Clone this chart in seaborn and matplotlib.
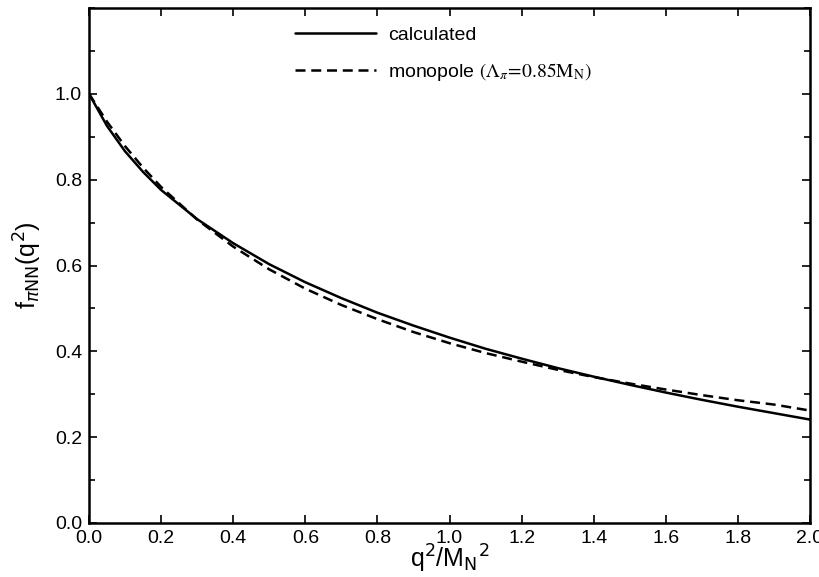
import numpy as np
import pandas as pd
import seaborn as sns
import matplotlib.pyplot as plt
from matplotlib.lines import Line2D
from matplotlib.ticker import MultipleLocator

# values
q2 = [0.0, 0.05, 0.1, 0.15, 0.2, 0.3, 0.4, 0.5, 0.6, 0.7, 0.8, 0.9, 1.0,
      1.1, 1.2, 1.3, 1.4, 1.5, 1.6, 1.7, 1.8, 1.9, 2.0]
calculated = [1.0, 0.925, 0.866, 0.818, 0.776, 0.708, 0.652, 0.603, 0.561,
              0.524, 0.490, 0.460, 0.432, 0.406, 0.383, 0.361, 0.341, 0.322,
              0.304, 0.287, 0.271, 0.256, 0.241]
monopole = [1.0, 0.935, 0.878, 0.828, 0.783, 0.707, 0.644, 0.591, 0.546,
            0.508, 0.475, 0.445, 0.419, 0.396, 0.376, 0.357, 0.340, 0.325,
            0.311, 0.298, 0.286, 0.276, 0.262]
labels = ['calculated', r'monopole $(\Lambda_{\pi}\!=\!0.85\mathrm{M}_{\mathrm{N}})$']

df = pd.DataFrame({
    'q2': q2 * 2,
    'f': calculated + monopole,
    'curve': [labels[0]] * len(q2) + [labels[1]] * len(q2),
})

sns.set_style('ticks')
plt.rcParams['font.family'] = ['Liberation Sans', 'DejaVu Sans']
plt.rcParams['axes.linewidth'] = 1.8
plt.rcParams['axes.edgecolor'] = 'black'
plt.rcParams['text.color'] = 'black'
plt.rcParams['axes.labelcolor'] = 'black'
plt.rcParams['xtick.color'] = 'black'
plt.rcParams['ytick.color'] = 'black'

fig = plt.figure(figsize=(8.19, 5.77), dpi=100)
ax = fig.add_axes([0.1087, 0.0936, 0.8803, 0.8925])

sns.lineplot(data=df, x='q2', y='f', hue='curve', style='curve',
             palette=['black', 'black'], dashes=[(None, None), (4, 2.3)],
             linewidth=1.8, legend=False, ax=ax)

ax.set_xlim(0, 2.0)
ax.set_ylim(0, 1.2)
ax.set_xticks(np.arange(0, 2.01, 0.2))
ax.set_xticklabels([f'{v:.1f}' for v in np.arange(0, 2.01, 0.2)])
ax.set_yticks(np.arange(0, 1.01, 0.2))
ax.set_yticklabels([f'{v:.1f}' for v in np.arange(0, 1.01, 0.2)])
ax.yaxis.set_minor_locator(MultipleLocator(0.1))
ax.tick_params(which='both', direction='in', top=True, right=True,
               labelsize=14, width=1.2, pad=5)
ax.tick_params(which='major', length=6)
ax.tick_params(which='minor', length=4)

ax.set_xlabel(r'q$^{2}$/M$_{\mathrm{N}}$$^{2}$', fontsize=18, labelpad=-3,
              math_fontfamily='dejavusans')
ax.set_ylabel(r'f$_{\pi\mathrm{NN}}$(q$^{2}$)', fontsize=18, labelpad=8,
              math_fontfamily='dejavusans')

handles = [Line2D([], [], color='black', lw=1.8),
           Line2D([], [], color='black', lw=1.8, dashes=(4, 2.3))]
leg = ax.legend(handles, labels, loc='upper left',
                bbox_to_anchor=(0.285, 0.965), frameon=False, fontsize=14,
                handlelength=4.2, handletextpad=0.6, labelspacing=0.9,
                borderpad=0, borderaxespad=0)
for t in leg.get_texts():
    t.set_math_fontfamily('stix')

fig.savefig('out.png', dpi=100)
